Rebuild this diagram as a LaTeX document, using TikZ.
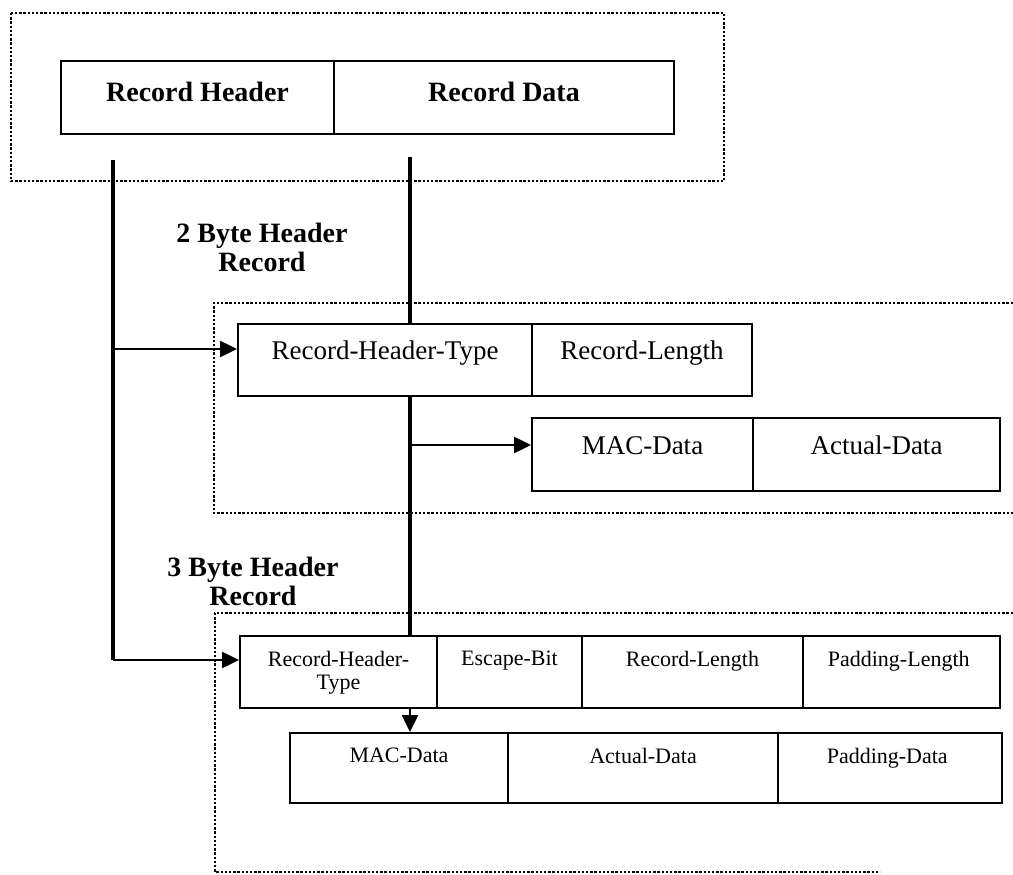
\documentclass[tikz,border=0pt]{standalone}
\usepackage{fontspec}
\setmainfont{Liberation Serif}
\usetikzlibrary{positioning,arrows.meta,calc}

\tikzset{
	field/.style={draw,line width=2pt,inner sep=0pt},
	grp/.style={line width=2.6pt,dash pattern=on 2.4pt off 1.8pt},
	trunk/.style={line width=3.8pt},
	conn/.style={line width=2.5pt,-{Triangle[length=17pt,width=16pt]}},
	hdrtxt/.style={inner sep=0pt,font=\fontsize{28pt}{29pt}\selectfont\bfseries},
	bigtxt/.style={inner sep=0pt,font=\fontsize{27pt}{28pt}\selectfont},
	smalltxt/.style={inner sep=0pt,align=center,font=\fontsize{22pt}{23pt}\selectfont},
	grplabel/.style={inner sep=0pt,align=center,font=\fontsize{28pt}{29pt}\selectfont\bfseries}
}

\begin{document}
\begin{tikzpicture}[x=1pt,y=-1pt]
	
	\useasboundingbox (0,0) rectangle (1013,875);
	
	% record
	\foreach \nm/\xl/\xr/\txt in
	{
		hdr/61/334/{Record Header},
		dat/334/674/{Record Data}
	}
	{
		\node[field,minimum width={(\xr-\xl)*1pt},minimum height=73pt]
		(\nm) at ({(\xl+\xr)/2},97.5) {};
		
		\node[hdrtxt,below=22pt of \nm.north] (\nm-t) {\txt};
	}
	
	% 2 byte header
	\foreach \nm/\xl/\xr/\txt in
	{
		rhtB/238/532/{Record-Header-Type},
		rlenB/532/752/{Record-Length}
	}
	{
		\node[field,minimum width={(\xr-\xl)*1pt},minimum height=72pt]
		(\nm) at ({(\xl+\xr)/2},360) {};
		
		\node[bigtxt,below=18pt of \nm.north] (\nm-t) {\txt};
	}
	
	\foreach \nm/\xl/\xr/\txt in
	{
		macB/532/753/{MAC-Data},
		actB/753/1000/{Actual-Data}
	}
	{
		\node[field,minimum width={(\xr-\xl)*1pt},minimum height=73pt]
		(\nm) at ({(\xl+\xr)/2},454.5) {};
		
		\node[bigtxt,below=19pt of \nm.north] (\nm-t) {\txt};
	}
	
	% 3 byte header
	\foreach \nm/\xl/\xr/\txt in
	{
		rhtC/240/437/{Record-Header-\\Type},
		escC/437/582/{Escape-Bit},
		rlenC/582/803/{Record-Length},
		plenC/803/1000/{Padding-Length}
	}
	{
		\node[field,minimum width={(\xr-\xl)*1pt},minimum height=72pt]
		(\nm) at ({(\xl+\xr)/2},672) {};
		
		\node[smalltxt,below=16pt of \nm.north] (\nm-t) {\txt};
	}
	
	\foreach \nm/\xl/\xr/\txt in
	{
		macC/290/508/{MAC-Data},
		actC/508/778/{Actual-Data},
		padC/778/1002/{Padding-Data}
	}
	{
		\node[field,minimum width={(\xr-\xl)*1pt},minimum height=70pt]
		(\nm) at ({(\xl+\xr)/2},768) {};
		
		\node[smalltxt,below=16pt of \nm.north] (\nm-t) {\txt};
	}
	
	% groups
	\draw[grp] (11,13) rectangle (724,181);
	\draw[grp] (1013,303) -| (214,513) -- (1013,513);
	\draw[grp] (1013,613) -| (215,872) -- (880,872);
	
	\node[grplabel] (lbl2) at (262,247) {2 Byte Header\\Record};
	\node[grplabel] (lbl3) at (253,581) {3 Byte Header\\Record};
	
	% connectors
	\coordinate (hstart) at (113,160);
	\coordinate (dstart) at (410,157);
	\coordinate (rhtBin) at ([yshift=11pt]rhtB.west);
	\coordinate (macBin) at ([yshift=9.5pt]macB.west);
	\coordinate (rhtCin) at ([yshift=12pt]rhtC.west);
	
	\draw[trunk]
	(hstart)
	--
	(hstart |- rhtCin);
	
	\draw[conn]
	(hstart |- rhtBin)
	--
	(rhtBin);
	
	\draw[conn]
	(hstart |- rhtCin)
	--
	(rhtCin);
	
	\draw[trunk]
	(dstart)
	--
	(dstart |- rhtB.north);
	
	\draw[trunk]
	(dstart |- rhtB.south)
	--
	(dstart |- rhtC.north);
	
	\draw[conn]
	(dstart |- macBin)
	--
	(macBin);
	
	\draw[conn]
	(dstart |- rhtC.south)
	--
	(dstart |- macC.north);
	
\end{tikzpicture}
\end{document}
